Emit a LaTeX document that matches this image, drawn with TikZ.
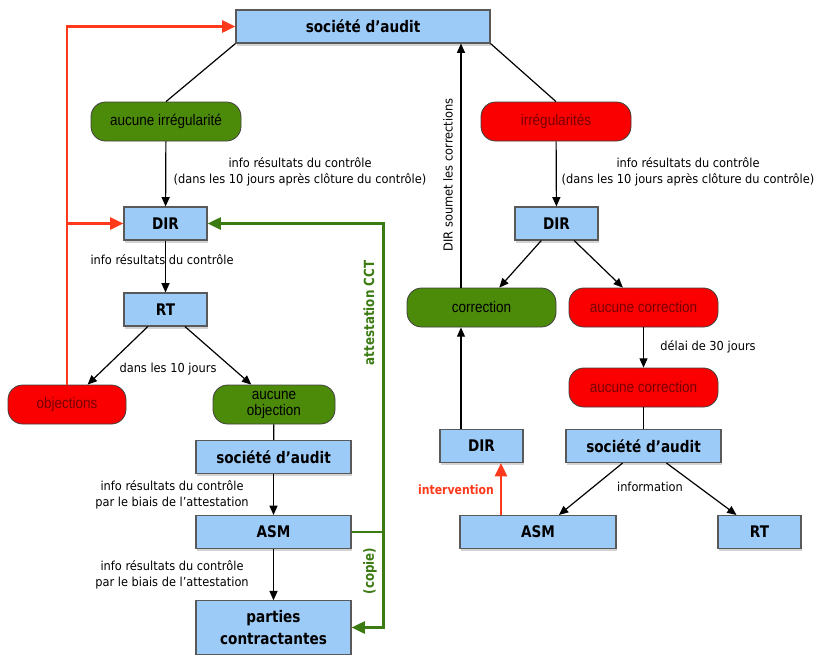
\documentclass[tikz,border=0pt]{standalone}
\usepackage{fontspec}
\setmainfont[FakeStretch=0.92]{DejaVu Sans}
\newfontfamily\boxfont[FakeStretch=0.85]{DejaVu Sans}
\newfontfamily\pillfont[FakeStretch=0.88]{Liberation Sans}
\usetikzlibrary{arrows.meta,shadows}
\definecolor{boxblue}{RGB}{157,203,248}
\definecolor{okgreen}{RGB}{76,138,10}
\definecolor{badred}{RGB}{250,0,0}
\definecolor{badtext}{RGB}{120,0,0}
\definecolor{objred}{RGB}{255,58,28}
\definecolor{cctgreen}{RGB}{60,122,18}

\begin{document}
\begin{tikzpicture}[x=0.75pt, y=-0.75pt,
    box/.style={draw=black!65, fill=boxblue, line width=0.8pt, inner sep=0pt, minimum height=24.75pt,
        font=\boxfont\fontsize{12}{16}\selectfont\bfseries, align=center,
        drop shadow={opacity=0.35, shadow xshift=0.8pt, shadow yshift=-2pt}},
    pill/.style={draw=black!75, rounded corners=11pt, line width=0.6pt, inner sep=0pt, minimum height=29.25pt,
        font=\pillfont\fontsize{11.5}{12}\selectfont, align=center},
    good/.style={pill, fill=okgreen},
    bad/.style={pill, fill=badred, text=badtext},
    lbl/.style={font=\fontsize{9.3}{12.4}\selectfont, align=center},
    side/.style={font=\boxfont\fontsize{10.5}{12}\selectfont\bfseries},
    arr/.style={-{Triangle[length=7pt,width=6pt]}, line width=0.9pt},
    redarr/.style={-{Triangle[length=10pt,width=9pt]}, objred, line width=2pt},
    greenarr/.style={-{Triangle[length=10pt,width=9pt]}, cctgreen, line width=2pt}]
    \useasboundingbox (0,0) rectangle (820,654);

    \node[box, minimum width=190.5pt] (sa) at (363,26.5) {société d’audit};
    \node[good, minimum width=112.5pt] (noirr) at (166,121.5) {aucune irrégularité};
    \node[bad, minimum width=112.5pt] (irr) at (556,121.5) {irrégularités};
    \node[lbl] (infoL) at (300,172) {info résultats du contrôle\\(dans les 10 jours après clôture du contrôle)};
    \node[lbl] (infoR) at (688,172) {info résultats du contrôle\\(dans les 10 jours après clôture du contrôle)};
    \node[box, minimum width=62.25pt] (dirL) at (165.5,223.5) {DIR};
    \node[box, minimum width=62.25pt] (dirR) at (556.5,223.5) {DIR};
    \node[lbl] (infoD) at (162,260) {info résultats du contrôle};
    \node[box, minimum width=62.25pt] (rtL) at (165.5,309.5) {RT};
    \node[lbl] (ten) at (168,369) {dans les 10 jours};
    \node[bad, minimum width=88.5pt] (obj) at (67,404.5) {objections};
    \node[good, minimum width=91.5pt] (noobj) at (274,404.5) {aucune\\objection};
    \node[box, minimum width=116.25pt] (sa2) at (273.5,457) {société d’audit};
    \node[lbl] (attA) at (172,495) {info résultats du contrôle\\par le biais de l’attestation};
    \node[box, minimum width=116.25pt] (asmL) at (273.5,532) {ASM};
    \node[lbl] (attB) at (172,575) {info résultats du contrôle\\par le biais de l’attestation};
    \node[box, minimum width=116.25pt, minimum height=40pt] (pc) at (273.5,627.5) {parties\\contractantes};

    \node[lbl, rotate=90] (soumet) at (448,175) {DIR soumet les corrections};
    \node[good, minimum width=111.75pt] (corr) at (481.5,307.5) {correction};
    \node[bad, minimum width=111.75pt] (nocorr) at (643.5,307.5) {aucune correction};
    \node[lbl] (delai) at (708,347) {délai de 30 jours};
    \node[bad, minimum width=111.75pt] (nocorr2) at (643.5,387.5) {aucune correction};
    \node[box, minimum width=116.25pt] (sa3) at (643.5,446) {société d’audit};
    \node[box, minimum width=62.25pt] (dir3) at (481.5,446) {DIR};
    \node[lbl] (inf) at (650,487) {information};
    \node[box, minimum width=117pt] (asmR) at (538,532) {ASM};
    \node[box, minimum width=62.25pt] (rtR) at (759.5,532) {RT};
    \node[side, font=\boxfont\fontsize{9.6}{11}\selectfont\bfseries, text=objred] (interv) at (456,490) {intervention};
    \node[side, rotate=90, text=cctgreen] (cct) at (369,313) {attestation CCT};
    \node[side, rotate=90, text=cctgreen] (copie) at (370,571) {(copie)};

    \draw[line width=0.9pt] (sa.south west) -- (noirr.north);
    \draw[line width=0.9pt] (sa.south east) -- (irr.north);
    \draw[arr] (noirr) -- (dirL);
    \draw[arr] (irr) -- (dirR);
    \draw[arr] (dirL) -- (rtL);
    \draw[arr] (rtL) -- (obj);
    \draw[arr] (rtL) -- (noobj);
    \draw[line width=0.9pt] (noobj) -- (sa2);
    \draw[arr] (sa2) -- (asmL);
    \draw[arr] (asmL) -- (pc);
    \draw[arr] (dirR) -- (corr);
    \draw[arr] (dirR) -- (nocorr);
    \draw[arr] (nocorr) -- (nocorr2);
    \draw[line width=0.9pt] (nocorr2) -- (sa3);
    \draw[arr] (sa3) -- (asmR);
    \draw[arr] (sa3) -- (rtR);
    \coordinate (up) at ([xshift=-15.4pt]corr.north);
    \draw[arr] (up |- dir3.north) -- (up |- corr.south);
    \draw[arr] (up) -- (up |- sa.south);
    \coordinate (iv) at ([xshift=14.6pt]dir3.south);
    \draw[redarr] (iv |- asmR.north) -- (iv);
    \draw[redarr] (obj.north) -- (obj.north |- sa.west) -- (sa.west);
    \draw[redarr] (obj.north |- dirL.west) -- (dirL.west);
    \coordinate (gx) at ([xshift=24pt]asmL.east);
    \draw[greenarr] (asmL.east) -- (gx) |- (dirL.east);
    \draw[greenarr] (gx) |- (pc.east);
\end{tikzpicture}
\end{document}
